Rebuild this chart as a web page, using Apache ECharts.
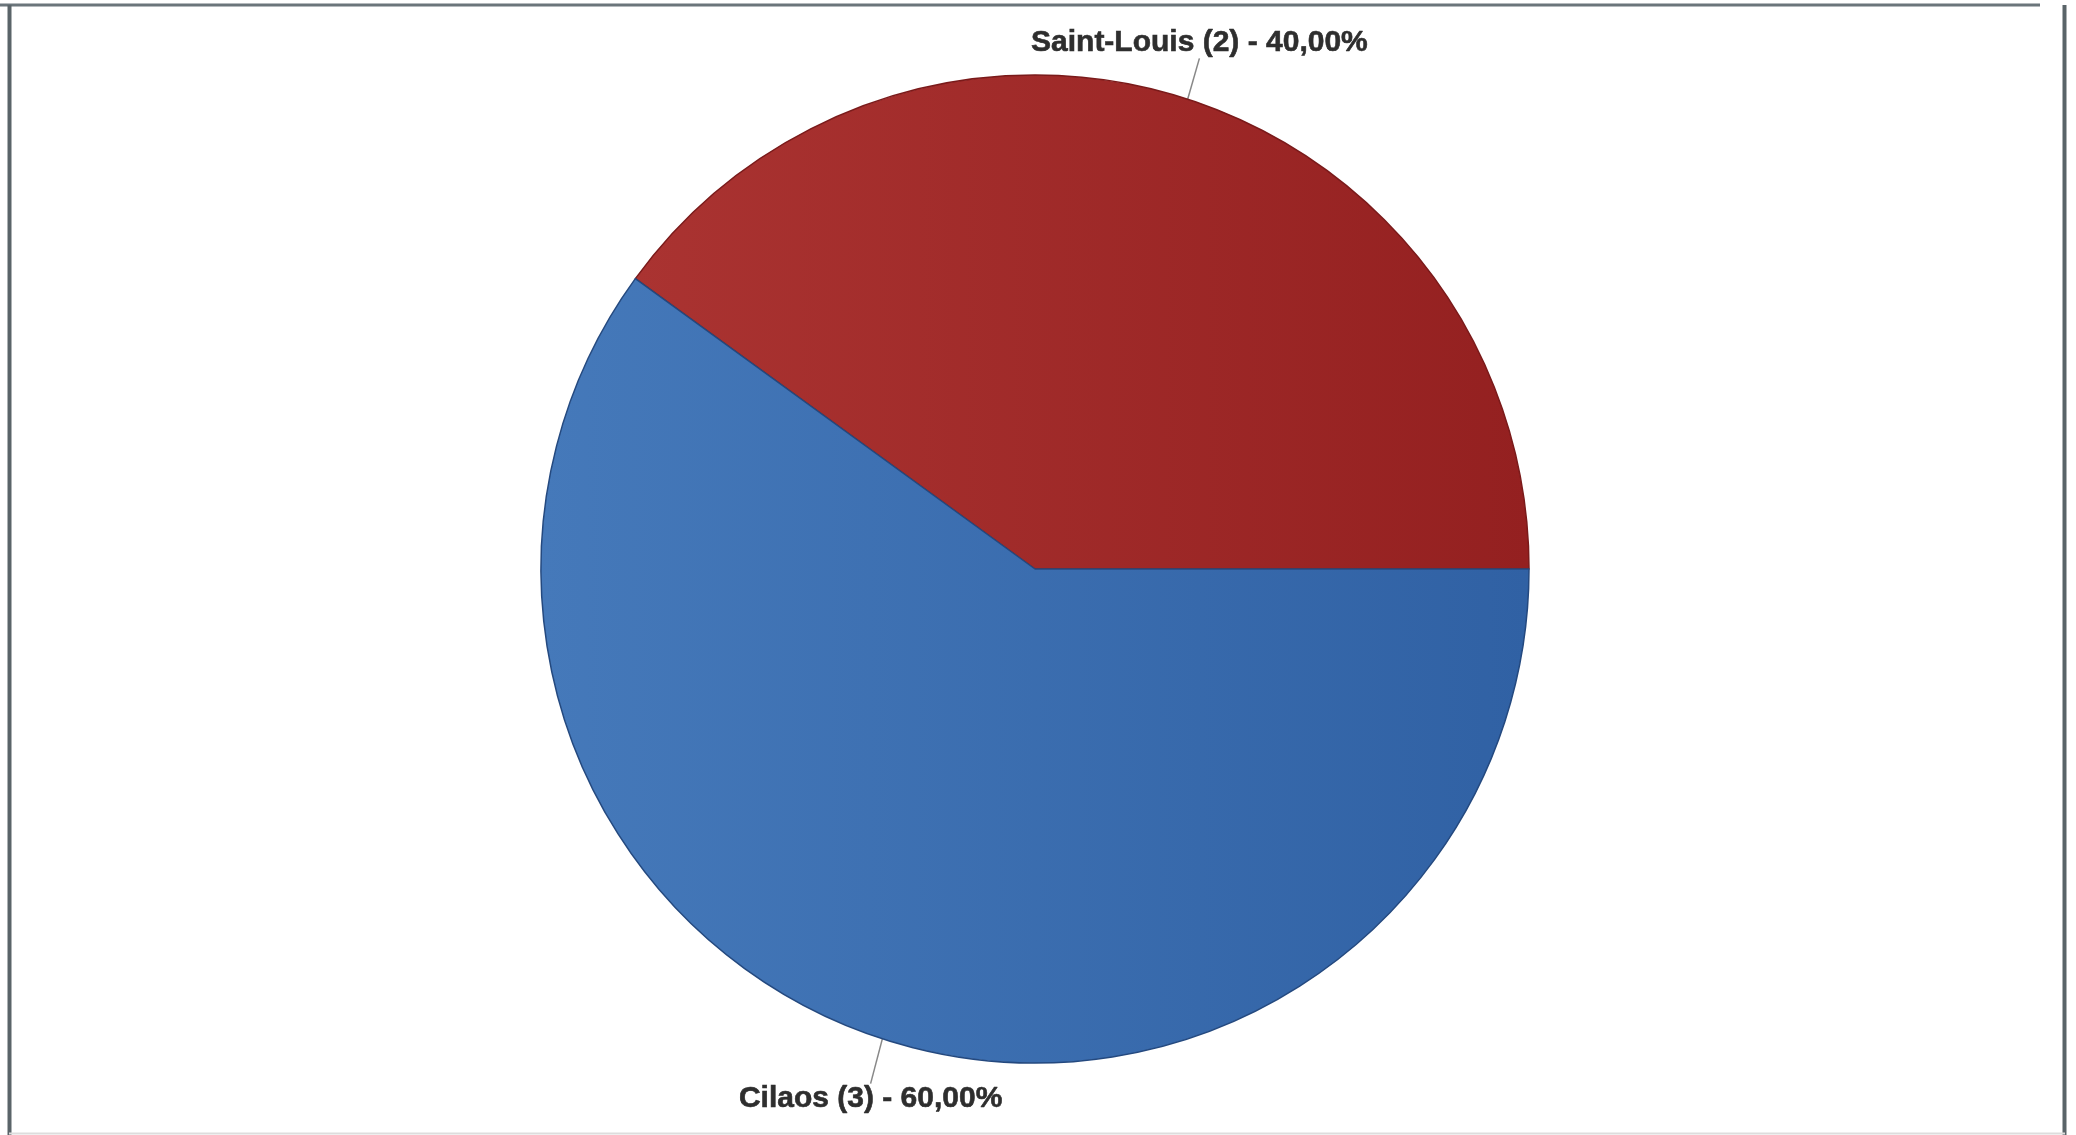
<!DOCTYPE html>
<html>
<head>
<meta charset="utf-8">
<script src="https://cdn.jsdelivr.net/npm/echarts@6/dist/echarts.min.js"></script>
<style>
html,body{margin:0;padding:0;background:#fff;}
#c{width:2076px;height:1135px;}
</style>
</head>
<body>
<div id="c"></div>
<script>
const categories = ['Saint-Louis', 'Cilaos'];
const counts = [2, 3];
const percentLabels = ['40,00%', '60,00%'];
const sliceColors = [['#AA3331', '#942020', '#7a1a1a'], ['#4579BA', '#3061A4', '#24497f']];

const chart = echarts.init(document.getElementById('c'), null, {renderer: 'canvas'});

const data = categories.map((name, i) => ({
  name: name,
  value: counts[i],
  pct: percentLabels[i],
  itemStyle: {
    color: new echarts.graphic.LinearGradient(0, 0, 1, 0, [
      {offset: 0, color: sliceColors[i][0]},
      {offset: 1, color: sliceColors[i][1]}
    ]),
    borderColor: sliceColors[i][2],
    borderWidth: 1.5
  }
}));

chart.setOption({
  backgroundColor: '#ffffff',
  animation: false,
  graphic: [
    {type: 'line', shape: {x1: 0, y1: 5, x2: 2040, y2: 5}, style: {stroke: '#6b757b', lineWidth: 3}},
    {type: 'line', shape: {x1: 9.5, y1: 5, x2: 9.5, y2: 1135}, style: {stroke: '#5a6469', lineWidth: 4}},
    {type: 'line', shape: {x1: 2064.5, y1: 5, x2: 2064.5, y2: 1135}, style: {stroke: '#5a6469', lineWidth: 4}},
    {type: 'line', shape: {x1: 9, y1: 1133.5, x2: 2065, y2: 1133.5}, style: {stroke: '#dddddd', lineWidth: 2}}
  ],
  series: [{
    type: 'pie',
    center: [1035, 569],
    radius: 494,
    startAngle: 0,
    clockwise: false,
    data: data,
    label: {
      show: true,
      position: 'outside',
      formatter: p => p.name + ' (' + p.value + ') - ' + p.data.pct,
      fontFamily: '"Liberation Sans", Arial, sans-serif',
      fontWeight: 'bold',
      fontSize: 30,
      color: '#2e2e2e',
      textBorderColor: '#2e2e2e',
      textBorderWidth: 0.6
    },
    labelLine: {
      show: true,
      length: 38,
      length2: 0,
      smooth: false,
      lineStyle: {color: '#888888', width: 1.5}
    },
    labelLayout: function (params) {
      const pts = params.labelLinePoints;
      if (!pts) return {};
      const end = pts[pts.length - 1];
      const start = pts[0];
      const up = end[1] < start[1];
      return {
        x: end[0],
        y: end[1] + (up ? -5 : 9),
        align: 'center',
        verticalAlign: up ? 'bottom' : 'top'
      };
    },
    emphasis: {disabled: true}
  }]
});
</script>
</body>
</html>
